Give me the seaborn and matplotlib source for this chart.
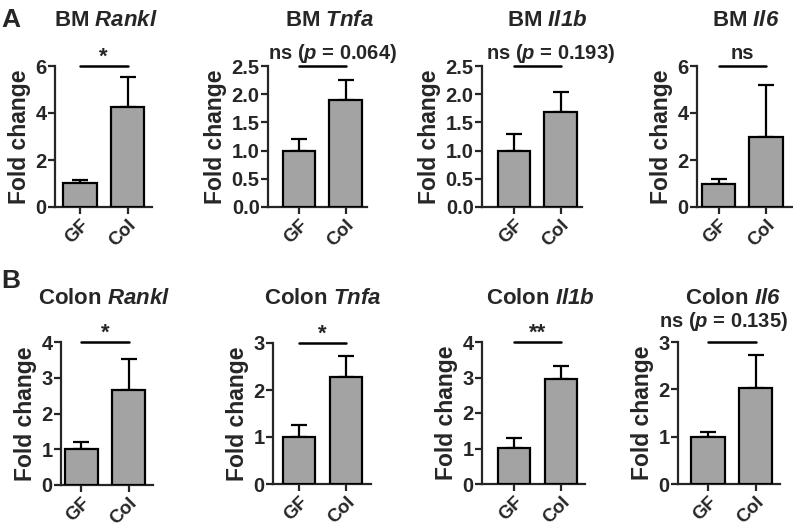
import numpy as np
import pandas as pd
import matplotlib
matplotlib.use("Agg")
import matplotlib.pyplot as plt
import seaborn as sns

# Values (mean fold change and top of the error bar)
tissues = ["BM", "BM", "BM", "BM", "Colon", "Colon", "Colon", "Colon"]
genes = ["Rankl", "Tnfa", "Il1b", "Il6", "Rankl", "Tnfa", "Il1b", "Il6"]
groups = ["GF", "Col"]
gf_mean = [1.02, 1.00, 1.00, 1.00, 1.02, 1.00, 1.01, 1.00]
gf_upper = [1.14, 1.21, 1.29, 1.21, 1.21, 1.26, 1.29, 1.09]
col_mean = [4.24, 1.90, 1.68, 3.00, 2.67, 2.27, 2.96, 2.02]
col_upper = [5.55, 2.25, 2.04, 5.20, 3.52, 2.73, 3.32, 2.72]
sig_text = ["*", r"ns ($\mathit{p}$ = 0.064)", r"ns ($\mathit{p}$ = 0.193)", "ns",
            "*", "*", "**", r"ns ($\mathit{p}$ = 0.135)"]
y_max = [6, 2.5, 2.5, 6, 4, 3, 4, 3]
y_step = [2, 0.5, 0.5, 2, 1, 1, 1, 1]

# Layout in pixels: y-axis x, right end, GF centre, Col centre, zero y, top y
W, H = 793, 530
layout = [
    (55, 152, 80, 127.5, 207, 66),
    (268, 367, 299, 345.5, 207, 66),
    (482, 582, 514, 560.5, 207, 66),
    (697, 792, 718.5, 766, 207, 66),
    (61, 153, 81.3, 128.8, 485, 342),
    (273, 371, 299, 346, 484, 343),
    (482, 585, 514, 561, 484, 342),
    (678, 780, 708, 755.5, 484, 342),
]
title_x = [106, 330, 547, 746, 104, 323, 540, 733]
title_y = [21, 21, 21, 21, 298, 298, 298, 298]
sig_x = [None, 333, 551, None, None, None, None, 724]
sig_dy = [2.5, 5, 5, 5, 2.5, 2.5, 2.5, 10.5]

sns.set_style("ticks")
plt.rcParams["font.family"] = ["Liberation Sans", "DejaVu Sans"]
plt.rcParams["font.weight"] = "bold"
plt.rcParams["mathtext.fontset"] = "custom"
plt.rcParams["mathtext.it"] = "Liberation Sans:italic:bold"
plt.rcParams["mathtext.rm"] = "Liberation Sans:italic:bold"
plt.rcParams["axes.linewidth"] = 1.6
plt.rcParams["xtick.major.width"] = 1.6
plt.rcParams["ytick.major.width"] = 1.6
plt.rcParams["xtick.major.size"] = 5
plt.rcParams["ytick.major.size"] = 5

fig = plt.figure(figsize=(W / 100, H / 100), dpi=100)

for i in range(8):
    x0, x1, gfc, colc, yz, yt = layout[i]
    s = colc - gfc
    ax = fig.add_axes([x0 / W, (H - yz) / H, (x1 - x0) / W, (yz - yt) / H])
    df = pd.DataFrame({"group": groups, "fold": [gf_mean[i], col_mean[i]]})
    sns.barplot(data=df, x="group", y="fold", order=groups, color="#a3a3a3",
                saturation=1, width=0.7, edgecolor="black", linewidth=1.6,
                errorbar=None, ax=ax, zorder=3)
    means = np.array([gf_mean[i], col_mean[i]])
    uppers = np.array([gf_upper[i], col_upper[i]])
    ax.errorbar([0, 1], means, yerr=[np.zeros(2), uppers - means], fmt="none",
                ecolor="black", elinewidth=1.6, capsize=6, capthick=1.6, zorder=2)

    ax.set_xlim((x0 - gfc) / s, (x1 - gfc) / s)
    ax.set_ylim(0, y_max[i])
    ticks = np.arange(0, y_max[i] + 1e-9, y_step[i])
    ax.set_yticks(ticks)
    if y_step[i] < 1:
        ax.set_yticklabels([f"{t:.1f}" for t in ticks])
    else:
        ax.set_yticklabels([f"{t:.0f}" for t in ticks])
    ax.tick_params(axis="y", labelsize=14.5, pad=1)
    ax.tick_params(axis="x", labelsize=13.5, pad=2)
    for lab in ax.get_xticklabels():
        lab.set_rotation(45)
        lab.set_ha("right")
        lab.set_rotation_mode("anchor")
    ax.set_xlabel("")
    ax.set_ylabel("Fold change", fontsize=16.5, fontweight="bold", labelpad=3)
    sns.despine(ax=ax)

    # significance bar on top of the axes
    ax.plot([0, 1], [y_max[i], y_max[i]], color="black", lw=1.8, clip_on=False)
    tx = 0.5 if sig_x[i] is None else (sig_x[i] - gfc) / s
    star = sig_text[i].startswith("*")
    ax.annotate(sig_text[i], xy=(tx, y_max[i]), xytext=(0, sig_dy[i]),
                textcoords="offset points", ha="center", va="baseline",
                fontsize=16 if star else 14.5, fontweight="bold",
                annotation_clip=False)

    fig.text(title_x[i] / W, 1 - title_y[i] / H,
             tissues[i] + r" $\mathit{" + genes[i] + "}$",
             ha="center", va="center", fontsize=16, fontweight="bold")

fig.text(11 / W, 1 - 20 / H, "A", ha="center", va="center", fontsize=19, fontweight="bold")
fig.text(11 / W, 1 - 281 / H, "B", ha="center", va="center", fontsize=19, fontweight="bold")

fig.savefig("out.png", dpi=100)
